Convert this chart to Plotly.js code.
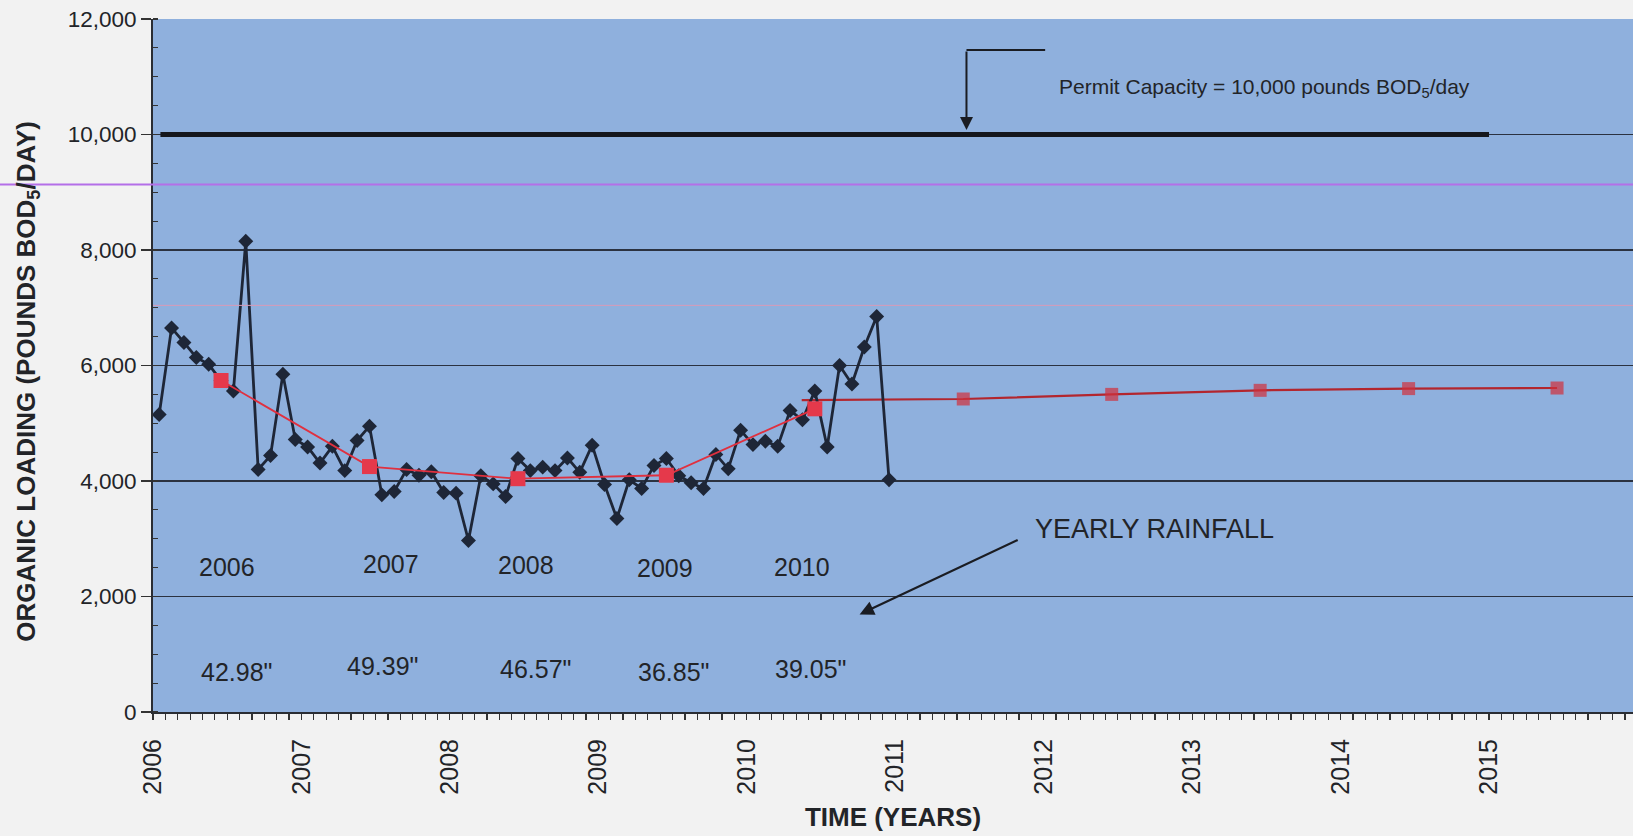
<!DOCTYPE html>
<html>
<head>
<meta charset="utf-8">
<script src="https://cdn.plot.ly/plotly-3.0.1.min.js"></script>
<style>
  html, body { margin: 0; padding: 0; background: #f2f2f2; }
  #chart { width: 1633px; height: 836px; }
</style>
</head>
<body>
<div id="chart"></div>
<script>
// ---------------- DATA ----------------
const years = [2006, 2007, 2008, 2009, 2010];
const load2006 = [5150, 6650, 6400, 6140, 6020, 5740, 5560, 8150, 4200, 4440, 5850, 4720];
const load2007 = [4590, 4310, 4600, 4180, 4700, 4950, 3760, 3820, 4200, 4100, 4160, 3800];
const load2008 = [3790, 2970, 4090, 3950, 3730, 4390, 4180, 4240, 4180, 4400, 4150, 4620];
const load2009 = [3940, 3350, 4020, 3870, 4270, 4390, 4090, 3970, 3870, 4460, 4210, 4880];
const load2010 = [4630, 4690, 4600, 5220, 5060, 5560, 4590, 6000, 5680, 6320, 6850, 4020];
const monthlyLoads = [load2006, load2007, load2008, load2009, load2010];

const annualAvg = [5740, 4250, 4040, 4100, 5250];

const projYears = [2011, 2012, 2013, 2014, 2015];
const projLoad = [5420, 5500, 5570, 5600, 5610];
const projStartYear = 2010.37;
const projStartLoad = 5400;

const permitCapacity = 10000;
const permitStart = 2006.05;
const permitEnd = 2015.0;

const yearLabels = ["2006", "2007", "2008", "2009", "2010"];
const rainfallLabels = ['42.98"', '49.39"', '46.57"', '36.85"', '39.05"'];

// ---------------- BUILD ----------------
const mx = [], my = [];
years.forEach((yr, i) => {
  monthlyLoads[i].forEach((v, m) => { mx.push(yr + (m + 0.5) / 12); my.push(v); });
});
const ax = years.map(y => y + 5.5 / 12);
const px = [projStartYear].concat(projYears.map(y => y + 5.5 / 12));
const py = [projStartLoad].concat(projLoad);

const FONT = "Liberation Sans, Arial, sans-serif";
const TXT = "#222428";

const traces = [
  { x: [permitStart, permitEnd], y: [permitCapacity, permitCapacity], mode: "lines",
    line: { color: "#15171c", width: 5 }, hoverinfo: "skip" },
  { x: px, y: py, mode: "lines+markers",
    line: { color: "#b3262e", width: 2.2 },
    marker: { symbol: "square", size: px.map((_, i) => i === 0 ? 0 : 13), color: "#d0303c",
              line: { width: 0 } } },
  { x: mx, y: my, mode: "lines+markers",
    line: { color: "#1e2637", width: 2.8 },
    marker: { symbol: "diamond", size: 11.5, color: "#1e2637" } },
  { x: ax, y: annualAvg, mode: "lines+markers",
    line: { color: "#e0303f", width: 1.8 },
    marker: { symbol: "square", size: 15, color: "#e5394b" } }
];

// text positions (layout)
const yearLabelDx = [0.04, 0.14, 0.05, -0.01, -0.085];
const yearLabelY = [2510, 2570, 2550, 2500, 2515];
const rainDx = [0.1, 0.085, 0.12, 0.045, -0.03];
const rainY = [700, 800, 750, 700, 750];

const annotations = [];
years.forEach((yr, i) => {
  annotations.push({ x: yr + 0.46 + yearLabelDx[i], y: yearLabelY[i], text: yearLabels[i],
    showarrow: false, font: { family: FONT, size: 25, color: TXT } });
  annotations.push({ x: yr + 0.46 + rainDx[i], y: rainY[i], text: rainfallLabels[i],
    showarrow: false, font: { family: FONT, size: 25, color: TXT } });
});
annotations.push({ x: 2012.09, y: 10800, xanchor: "left", text: "Permit Capacity = 10,000 pounds BOD<sub>5</sub>/day",
  showarrow: false, font: { family: FONT, size: 21, color: TXT } });
annotations.push({ x: 2011.48, y: 10080, ax: 2011.48, ay: 11464, axref: "x", ayref: "y",
  text: "", showarrow: true, arrowhead: 2, arrowsize: 1.3, arrowwidth: 2, arrowcolor: "#1a1c22" });
annotations.push({ x: 2011.93, y: 3170, xanchor: "left", text: "YEARLY RAINFALL",
  showarrow: false, font: { family: FONT, size: 27, color: TXT } });
annotations.push({ x: 2010.76, y: 1690, ax: 2011.835, ay: 2990, axref: "x", ayref: "y",
  text: "", showarrow: true, arrowhead: 2, arrowsize: 1.3, arrowwidth: 2.2, arrowcolor: "#1a1c22" });
// y-axis title (placed as annotation to match the reference's vertical offset)
annotations.push({ xref: "paper", yref: "paper", x: -0.085, y: 0.477, xanchor: "center", yanchor: "middle",
  textangle: -90,
  text: "<b>ORGANIC LOADING (POUNDS BOD<sub>5</sub>/DAY)</b>", showarrow: false,
  font: { family: FONT, size: 26, color: TXT } });

const shapes = [
  { type: "line", xref: "x", yref: "y", x0: 2011.48, x1: 2012.01, y0: 11464, y1: 11464,
    line: { color: "#1a1c22", width: 2 } },
  // scan artefact lines
  { type: "line", xref: "paper", yref: "y", x0: -0.11, x1: 1, y0: 9135, y1: 9135,
    line: { color: "#b46fe8", width: 2 } },
  { type: "line", xref: "x", yref: "y", x0: 2006, x1: 2016, y0: 7041, y1: 7041,
    line: { color: "#d89ab8", width: 1 } }
];

const layout = {
  width: 1633, height: 836,
  margin: { l: 153, r: 0, t: 19, b: 124 },
  paper_bgcolor: "#f2f2f2",
  plot_bgcolor: "#8fb0dd",
  showlegend: false,
  font: { family: FONT, color: TXT },
  xaxis: {
    range: [2006, 2015.97], dtick: 1, tick0: 2006, tickformat: "d",
    tickangle: -90, ticks: "outside", ticklen: 6, tickwidth: 1.2, tickcolor: "#333",
    ticklabelstandoff: 9,
    minor: { dtick: 1 / 12, ticks: "outside", ticklen: 6, tickwidth: 1.2, tickcolor: "#333", showgrid: false },
    showgrid: false, zeroline: false,
    showline: true, linecolor: "#2a2d33", linewidth: 2,
    tickfont: { family: FONT, size: 25, color: TXT },
    title: { text: "<b>TIME (YEARS)</b>", font: { family: FONT, size: 26, color: TXT }, standoff: 14 }
  },
  yaxis: {
    range: [0, 12000], dtick: 2000, tickformat: ",d",
    ticks: "outside", ticklen: 10, tickwidth: 1.2, tickcolor: "#333",
    minor: { dtick: 500, ticks: "inside", ticklen: 5, tickwidth: 1.2, tickcolor: "#333", showgrid: false },
    showgrid: true, gridcolor: "#2b3240", gridwidth: 1.5,
    zeroline: false, showline: true, linecolor: "#2a2d33", linewidth: 2,
    tickfont: { family: FONT, size: 22.5, color: TXT }
  },
  annotations: annotations,
  shapes: shapes
};

Plotly.newPlot("chart", traces, layout, { staticPlot: true, displayModeBar: false });
</script>
</body>
</html>
